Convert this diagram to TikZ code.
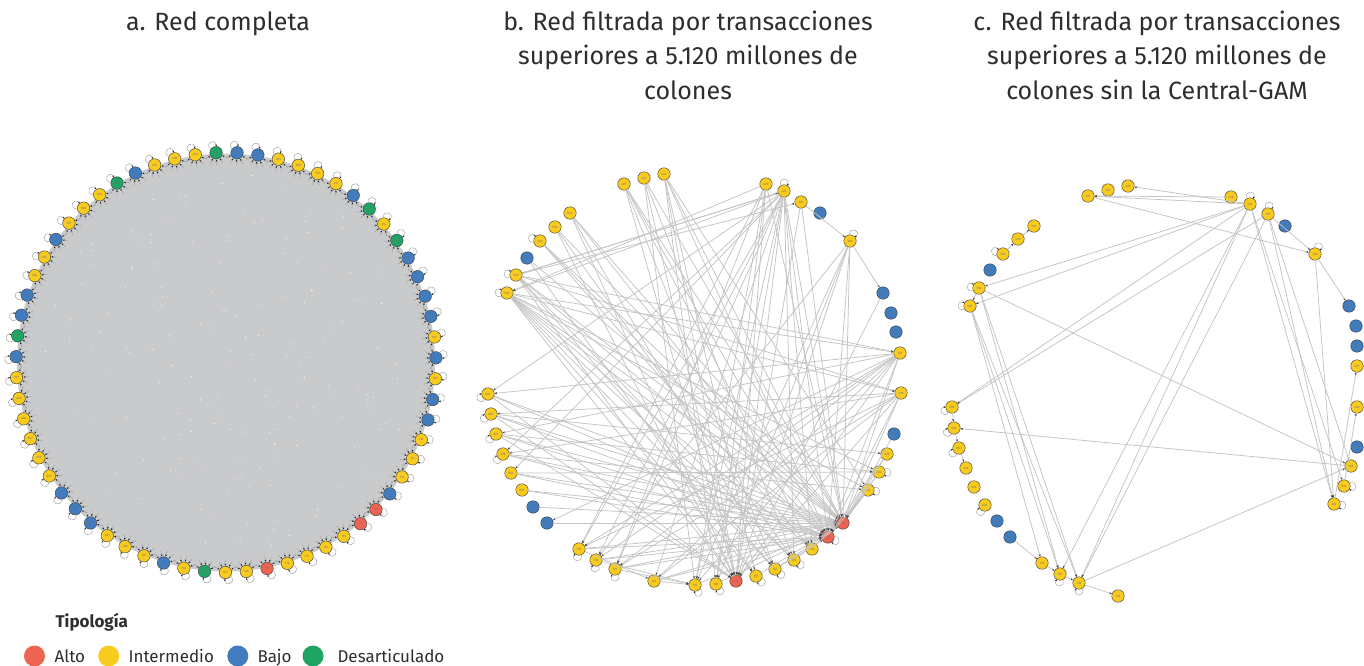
\documentclass[tikz,border=0pt]{standalone}
\usepackage{fontspec}
\setmainfont{Fira Sans}
\usetikzlibrary{arrows.meta,calc}
\definecolor{cA}{HTML}{EF6450}
\definecolor{cI}{HTML}{F9CB1E}
\definecolor{cB}{HTML}{3F7CC0}
\definecolor{cD}{HTML}{1FA463}
\definecolor{cEdge}{HTML}{C4C4C4}
\definecolor{cDisk}{HTML}{C9CACC}
\definecolor{cText}{HTML}{2E2E2E}
\newcommand\selfloop[2]{%
  \draw[loopst] let \p1=($(#1)-(#2)$), \n1={atan2(\y1,\x1)} in
    ($(#1)+({\n1+55}:6.2)$) .. controls ($(#1)+({\n1+50}:15.5)$) and ($(#1)+({\n1}:15.5)$) .. ($(#1)+({\n1-5}:6.2)$);}
\begin{document}
\begin{tikzpicture}[x=1pt,y=1pt,
  nd/.style={circle,draw=black!75,line width=0.45pt,minimum size=12.5pt,inner sep=0pt,
    font=\fontsize{3.2}{3.2}\selectfont,text=black!55},
  edg/.style={draw=cEdge,line width=0.75pt,-{Stealth[length=2.6pt,width=2pt,color=black!75]}},
  loopst/.style={draw=black!32,line width=0.55pt,-{Stealth[length=2.2pt,width=1.8pt,color=black!85]}},
  clut/.style={draw=black!40,line width=0.35pt,-{Stealth[length=2pt,width=1.7pt,color=black!90]}},
  title/.style={font=\fontsize{25}{30}\selectfont,text=cText,anchor=base},
  leg/.style={font=\fontsize{17}{20}\selectfont,text=cText,anchor=base west},
  legdot/.style={circle,minimum size=21pt,inner sep=0pt}]
\useasboundingbox (0,0) rectangle (1364,-665);
\fill[white] (0,0) rectangle (1364,-665);

% ---------------- titles
\node[title] (ta) at (218,-30) {a. Red completa};
\node[title] (tb1) at (688,-30) {b. Red filtrada por transacciones};
\node[title] (tb2) at (688,-64.5) {superiores a 5.120 millones de};
\node[title] (tb3) at (688,-99) {colones};
\node[title] (tc1) at (1157,-30) {c. Red filtrada por transacciones};
\node[title] (tc2) at (1157,-64.5) {superiores a 5.120 millones de};
\node[title] (tc3) at (1157,-99) {colones sin la Central-GAM};

% ---------------- legend
\node[leg,font=\fontsize{17}{20}\selectfont\bfseries] (tip) at (52,-627) {Tipología};
\node[legdot,fill=cA] (la) at (34.5,-656) {};
\node[leg] (ta1) at (51,-662) {Alto};
\node[legdot,fill=cI] (li) at (108.7,-656) {};
\node[leg] (ta2) at (125,-662) {Intermedio};
\node[legdot,fill=cB] (lb) at (237.8,-656) {};
\node[leg] (ta3) at (254,-662) {Bajo};
\node[legdot,fill=cD] (ld) at (313,-656) {};
\node[leg] (ta4) at (334,-662) {Desarticulado};

% ---------------- panel a
\coordinate (ca) at (226,-362.5);
\fill[cDisk] (ca) circle (209);
\pgfmathsetseed{7}
\foreach \s in {1,...,160}{
  \pgfmathsetmacro\ra{190*sqrt(rnd)}
  \pgfmathsetmacro\an{360*rnd}
  \fill[white] ($(ca)+(\an:\ra)$) circle (0.55);
}
\foreach \fc/\l [count=\i] in {cD/410,cI/409,cI/408,cI/407,cB/511,cD/510,cI/509,cI/508,cI/507,cB/506,
  cI/505,cI/504,cB/503,cB/502,cD/501,cB/611,cI/610,cI/609,cI/608,cI/607,
  cI/606,cI/605,cB/604,cB/603,cB/602,cI/601,cI/706,cI/705,cB/704,cI/703,
  cD/702,cI/701,cI/120,cA/119,cI/118,cI/117,cI/116,cI/115,cA/114,cA/101,
  cB/113,cI/112,cI/111,cI/110,cB/109,cB/108,cI/107,cB/106,cI/105,cB/104,
  cB/103,cB/102,cB/216,cD/215,cI/214,cD/213,cB/212,cI/211,cI/210,cI/406,
  cI/405,cB/404,cB/403}{
  \pgfmathsetmacro\ang{92.7+(\i-1)*5.71429}
  \node[nd,fill=\fc] (a\i) at ($(ca)+(\ang:210)$) {\l};
}
\foreach \i in {1,...,63}{
  \pgfmathsetmacro\ang{92.7+(\i-1)*5.71429}
  \selfloop{a\i}{ca}
  \foreach \k in {-62,-31,0,31,62}{
    \draw[clut] ($(a\i)+({\ang+180+\k}:12.5)$) -- ($(a\i)+({\ang+180+\k}:6.9)$);
  }
}

% ---------------- panel b
\coordinate (cb) at (694,-380);
\foreach \i/\u/\v/\fc/\l in {1/624/184/cI/401,2/644/178/cI/407,3/664/174/cI/402,4/766/184/cI/408,
  5/784/191/cI/405,6/801/202/cI/301,7/820/213/cB/307,8/850/241/cI/302,9/883/293/cB/304,
  10/891/313/cB/303,11/896/332/cB/306,12/900/353/cI/201,13/901/393/cI/206,14/894/434/cB/207,
  15/887/454/cI/205,16/879/472/cI/204,17/868/490/cI/202,18/843/523/cA/101,19/828/537/cA/102,
  20/812/549/cI/103,21/794/560/cI/109,22/775/569/cI/107,23/756/576/cI/110,24/736/581/cA/108,
  25/716/584/cI/106,26/695/585/cI/105,27/654/581/cI/104,28/615/569/cI/701,29/596/560/cI/703,
  30/579/549/cI/702,31/547/523/cB/704,32/533/507/cB/705,33/522/490/cI/603,34/511/473/cI/604,
  35/503/454/cI/606,36/496/434/cI/607,37/491/414/cI/605,38/488/394/cI/602,39/507/293/cI/501,
  40/516/275/cI/502,41/527/258/cB/507,42/540/241/cI/503,43/555/227/cI/506,44/570/213/cI/504}{
  \node[nd,fill=\fc] (b\i) at (\u,-\v) {\l};
}
\foreach \s in {1,2,3,4,5,6,8,12,13,15,16,17,21,22,23,25,26,27,28,29,30,31,32,33,34,35,36,37,38,39,40,41,42,43,44}{
  \draw[edg] (b\s) -- (b18);}
\foreach \s in {1,3,5,8,12,13,22,27,28,29,30,33,34,35,36,37,38,39,40,42,44}{
  \draw[edg] (b\s) -- (b19);}
\foreach \s in {1,2,3,4,5,6,8,9,12,13,36,37,38,39,40,43,44}{
  \draw[edg] (b\s) -- (b24);}
\foreach \tg in {26,25,27,28,29,30,38,39,40,35,34,21,20}{
  \draw[edg] (b5) -- (b\tg);}
\foreach \tg in {25,26,28,39,30}{
  \draw[edg] (b4) -- (b\tg);}
\foreach \s/\tg in {1/22,1/20,2/21,2/26,3/25,3/23,3/17,
  39/21,39/22,39/23,39/20,39/17,39/16,39/13,39/12,40/21,40/22,40/13,40/12,40/6,40/5,
  12/26,12/27,12/28,12/29,12/30,12/38,12/36,12/31,13/27,13/28,13/30,13/35,13/37,
  8/9,6/8,8/25,8/26,8/29,44/22,43/21,42/20,41/23,37/15,36/16,35/17,34/16,
  28/26,29/26,30/27,27/26,15/19,16/18,17/19,14/18}{
  \draw[edg] (b\s) -- (b\tg);}
\foreach \k in {5,8,16,17,19,21,22,23,25,26,28,29,30,35,36,37,38,39,40,42}{
  \selfloop{b\k}{cb}}

% ---------------- panel c
\coordinate (cc) at (1158,-392);
\foreach \i/\u/\v/\fc/\l in {1/1088/196/cI/401,2/1108/190/cI/407,3/1128/186/cI/402,4/1231/197/cI/408,
  5/1250/204/cI/405,6/1268/214/cI/301,7/1285/226/cB/307,8/1315/254/cI/302,9/1349/306/cB/304,
  10/1356/326/cB/303,11/1357/346/cB/306,12/1357/366/cI/201,13/1357/407/cI/206,14/1357/447/cB/207,
  15/1351/466/cI/205,16/1344/486/cI/204,17/1334/504/cI/202,18/1118/596/cI/703,19/1079/583/cI/702,
  20/1060/574/cI/701,21/1042/563/cI/705,22/1010/537/cB/704,23/997/521/cB/707,24/985/505/cI/603,
  25/974/487/cI/604,26/966/468/cI/606,27/959/448/cI/607,28/954/428/cI/605,29/952/407/cI/602,
  30/970/306/cI/501,31/979/288/cI/502,32/990/270/cB/507,33/1003/254/cI/503,34/1018/239/cI/506,
  35/1034/226/cI/504}{
  \node[nd,fill=\fc] (c\i) at (\u,-\v) {\l};
}
\foreach \s/\tg in {5/3,5/1,4/1,1/8,5/31,5/30,5/29,6/29,31/15,15/28,5/17,5/16,6/17,5/19,5/20,6/19,
  30/21,30/20,30/19,31/19,31/20,19/15,19/18,22/21,6/8,8/9,8/17,6/15,17/12,16/13,
  29/28,28/27,27/26,33/34,34/35,31/30,20/19,21/20}{
  \draw[edg] (c\s) -- (c\tg);}
\foreach \k in {5,6,8,17,16,19,20,24,27,28,29,30,31,33}{
  \selfloop{c\k}{cc}}
\end{tikzpicture}
\end{document}
